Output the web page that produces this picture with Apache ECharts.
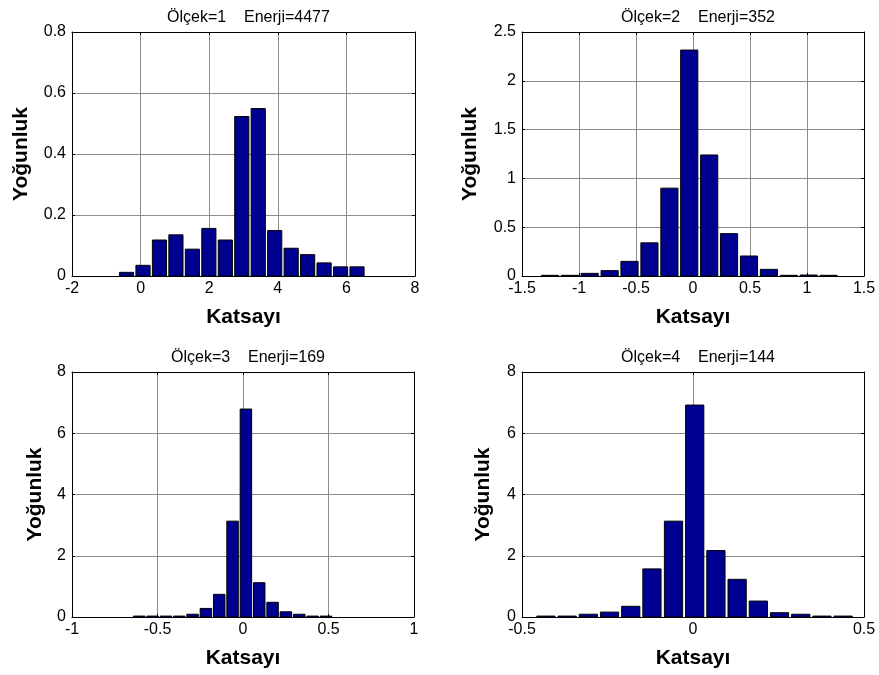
<!DOCTYPE html>
<html>
<head>
<meta charset="utf-8">
<script src="https://cdn.jsdelivr.net/npm/echarts@6/dist/echarts.min.js"></script>
<style>
  html, body { margin: 0; padding: 0; background: #fff; }
  #chart { width: 879px; height: 675px; }
</style>
</head>
<body>
<div id="chart"></div>
<script>
(function () {
  // Ölçek 1
  const centers1 = [-0.41, 0.07, 0.55, 1.03, 1.51, 1.99, 2.47, 2.95, 3.43, 3.91, 4.39, 4.87, 5.35, 5.83, 6.31];
  const values1 = [0.012, 0.035, 0.118, 0.135, 0.088, 0.156, 0.118, 0.523, 0.549, 0.149, 0.091, 0.070, 0.043, 0.030, 0.030];
  // Ölçek 2
  const centers2 = [-1.255, -1.080, -0.906, -0.731, -0.557, -0.382, -0.207, -0.033, 0.142, 0.316, 0.491, 0.666, 0.840, 1.015, 1.189];
  const values2 = [0.007, 0.007, 0.027, 0.055, 0.15, 0.34, 0.90, 2.315, 1.24, 0.434, 0.205, 0.068, 0.007, 0.01, 0.007];
  // Ölçek 3
  const centers3 = [-0.607, -0.529, -0.451, -0.373, -0.295, -0.217, -0.139, -0.061, 0.017, 0.095, 0.173, 0.251, 0.329, 0.407, 0.485];
  const values3 = [0.03, 0.03, 0.03, 0.03, 0.09, 0.28, 0.74, 3.13, 6.79, 1.12, 0.48, 0.17, 0.09, 0.03, 0.03];
  // Ölçek 4
  const centers4 = [-0.430, -0.368, -0.306, -0.244, -0.182, -0.120, -0.057, 0.005, 0.067, 0.129, 0.191, 0.253, 0.315, 0.377, 0.439];
  const values4 = [0.03, 0.03, 0.09, 0.16, 0.35, 1.57, 3.13, 6.92, 2.17, 1.23, 0.52, 0.14, 0.09, 0.03, 0.03];

  const titles = ['Ölçek=1    Enerji=4477', 'Ölçek=2    Enerji=352', 'Ölçek=3    Enerji=169', 'Ölçek=4    Enerji=144'];
  const xRanges = [[-2, 8, 2], [-1.5, 1.5, 0.5], [-1, 1, 0.5], [-0.5, 0.5, 0.5]];
  const yRanges = [[0, 0.8, 0.2], [0, 2.5, 0.5], [0, 8, 2], [0, 8, 2]];
  const xName = 'Katsayı';
  const yName = 'Yoğunluk';

  const panels = [
    { centers: centers1, values: values1, grid: { left: 72, top: 32, width: 343, height: 244 }, nameGap: 40 },
    { centers: centers2, values: values2, grid: { left: 522, top: 32, width: 342, height: 244 }, nameGap: 41 },
    { centers: centers3, values: values3, grid: { left: 72, top: 372, width: 342, height: 245 }, nameGap: 26 },
    { centers: centers4, values: values4, grid: { left: 522, top: 372, width: 342, height: 245 }, nameGap: 28 },
  ];

  const font = '"Liberation Sans", Arial, sans-serif';
  const barFill = '#000090';
  const gridColor = '#8c8c8c';

  const grids = [];
  const xAxes = [];
  const yAxes = [];
  const series = [];
  const titleList = [];

  panels.forEach((p, i) => {
    grids.push(Object.assign({ containLabel: false }, p.grid));
    const [xmin, xmax, xint] = xRanges[i];
    const [ymin, ymax, yint] = yRanges[i];

    xAxes.push({
      type: 'value', gridIndex: i, min: xmin, max: xmax, interval: xint, position: 'bottom',
      name: xName, nameLocation: 'middle', nameGap: 31,
      nameTextStyle: { fontFamily: font, fontWeight: 'bold', fontSize: 21, color: '#000' },
      axisLine: { show: true, onZero: false, lineStyle: { color: '#000', width: 1 } },
      axisTick: { show: true, inside: true, length: 3, lineStyle: { color: '#000' } },
      axisLabel: { fontFamily: font, fontSize: 16, color: '#000', margin: 5, showMinLabel: true, showMaxLabel: true },
      splitLine: { show: true, lineStyle: { color: gridColor, width: 1 } },
    });
    xAxes.push({
      type: 'value', gridIndex: i, min: xmin, max: xmax, interval: xint, position: 'top',
      axisLine: { show: true, onZero: false, lineStyle: { color: '#000', width: 1 } },
      axisTick: { show: true, inside: true, length: 3, lineStyle: { color: '#000' } },
      axisLabel: { show: false },
      splitLine: { show: false },
    });
    yAxes.push({
      type: 'value', gridIndex: i, min: ymin, max: ymax, interval: yint, position: 'left',
      name: yName, nameLocation: 'middle', nameGap: p.nameGap,
      nameTextStyle: { fontFamily: font, fontWeight: 'bold', fontSize: 21, color: '#000' },
      axisLine: { show: true, onZero: false, lineStyle: { color: '#000', width: 1 } },
      axisTick: { show: true, inside: true, length: 3, lineStyle: { color: '#000' } },
      axisLabel: { fontFamily: font, fontSize: 16, color: '#000', margin: 6, showMinLabel: true, showMaxLabel: true },
      splitLine: { show: true, lineStyle: { color: gridColor, width: 1 } },
    });
    yAxes.push({
      type: 'value', gridIndex: i, min: ymin, max: ymax, interval: yint, position: 'right',
      axisLine: { show: true, onZero: false, lineStyle: { color: '#000', width: 1 } },
      axisTick: { show: true, inside: true, length: 3, lineStyle: { color: '#000' } },
      axisLabel: { show: false },
      splitLine: { show: false },
    });

    const binWidth = p.centers[1] - p.centers[0];
    const drawWidth = binWidth * 0.86;
    series.push({
      type: 'custom',
      xAxisIndex: i * 2,
      yAxisIndex: i * 2,
      data: p.centers.map((c, k) => [c, p.values[k]]),
      clip: true,
      renderItem: function (params, api) {
        const c = api.value(0);
        const v = api.value(1);
        const p0 = api.coord([c - drawWidth / 2, v]);
        const p1 = api.coord([c + drawWidth / 2, 0]);
        return {
          type: 'rect',
          shape: { x: p0[0], y: p0[1], width: p1[0] - p0[0], height: p1[1] - p0[1] },
          style: { fill: barFill, stroke: '#000', lineWidth: 1 },
        };
      },
    });

    titleList.push({
      text: titles[i],
      left: p.grid.left + p.grid.width / 2,
      top: p.grid.top - 27,
      textAlign: 'center',
      textStyle: { fontFamily: font, fontWeight: 'normal', fontSize: 16, color: '#000' },
    });
  });

  const chart = echarts.init(document.getElementById('chart'));
  chart.setOption({
    animation: false,
    backgroundColor: '#fff',
    title: titleList,
    grid: grids,
    xAxis: xAxes,
    yAxis: yAxes,
    series,
  });
})();
</script>
</body>
</html>
